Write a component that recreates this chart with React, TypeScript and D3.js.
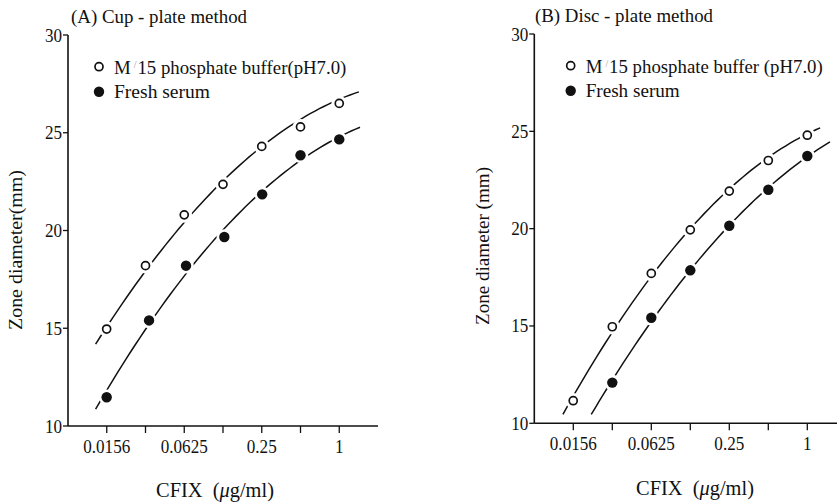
import React from "react";
import * as d3 from "d3";

// ---- data ----
const xTickValues = [1 / 64, 1 / 32, 1 / 16, 1 / 8, 1 / 4, 1 / 2, 1];
const xTickLabels = ["0.0156", "", "0.0625", "", "0.25", "", "1"];
const yTicks = [10, 15, 20, 25, 30];

// (A) Cup-plate method
const cupBufferConc = [0.0156, 0.03125, 0.0625, 0.125, 0.25, 0.5, 1];
const cupBufferZone = [14.96, 18.2, 20.8, 22.36, 24.3, 25.3, 26.5];
const cupSerumConc = [0.0156, 0.0333, 0.0645, 0.128, 0.252, 0.5, 1.0];
const cupSerumZone = [11.47, 15.4, 18.2, 19.67, 21.85, 23.85, 24.66];
// fitted-curve end points: [conc, zone]
const cupBufferCurveEnds = [[0.0128, 14.14], [1.42, 27.19]];
const cupSerumCurveEnds = [[0.0128, 10.9], [1.45, 25.3]];

// (B) Disc-plate method
const discBufferConc = [0.0156, 0.03125, 0.0625, 0.125, 0.25, 0.5, 1];
const discBufferZone = [11.16, 14.96, 17.7, 19.94, 21.93, 23.5, 24.8];
const discSerumConc = [0.03125, 0.0625, 0.125, 0.25, 0.5, 1];
const discSerumZone = [12.09, 15.42, 17.86, 20.15, 22.0, 23.73];
const discBufferCurveEnds = [[0.013, 10.46], [1.257, 25.23]];
const discSerumCurveEnds = [[0.0215, 10.46], [1.495, 24.46]];

const FONT = "'Liberation Serif', 'Times New Roman', serif";

function quadFit(xs: number[], ys: number[], ws: number[]) {
  // weighted least squares y = a + b u + c u^2 with u = log2(x)
  const us = xs.map((x) => Math.log2(x));
  const S = [0, 0, 0, 0, 0];
  const T = [0, 0, 0];
  us.forEach((u, i) => {
    const y = ys[i];
    const w = ws[i];
    for (let k = 0; k < 5; k++) S[k] += w * Math.pow(u, k);
    for (let k = 0; k < 3; k++) T[k] += w * y * Math.pow(u, k);
  });
  const M = [
    [S[0], S[1], S[2], T[0]],
    [S[1], S[2], S[3], T[1]],
    [S[2], S[3], S[4], T[2]],
  ];
  for (let i = 0; i < 3; i++) {
    let p = i;
    for (let r = i + 1; r < 3; r++) if (Math.abs(M[r][i]) > Math.abs(M[p][i])) p = r;
    [M[i], M[p]] = [M[p], M[i]];
    for (let r = 0; r < 3; r++) {
      if (r === i) continue;
      const f = M[r][i] / M[i][i];
      for (let c = i; c < 4; c++) M[r][c] -= f * M[i][c];
    }
  }
  const a = M[0][3] / M[0][0];
  const b = M[1][3] / M[1][1];
  const c = M[2][3] / M[2][2];
  return (x: number) => {
    const u = Math.log2(x);
    return a + b * u + c * u * u;
  };
}

type Series = { conc: number[]; zone: number[]; ends: number[][]; filled: boolean };

type PanelProps = {
  x0: number;
  x1: number;
  yTop: number;
  yBottom: number;
  axisEnd: number;
  title: string;
  titleX: number;
  titleY: number;
  titleLen: number;
  yLabel: string;
  yLabelX: number;
  yLabelY: number;
  yLabelLen: number;
  xLabelX: number;
  xLabelY: number;
  legendX: number;
  legendY1: number;
  legendY2: number;
  legend1: string;
  legendText2Len: number;
  series: Series[];
};

const TICK_FS = 19;

function CText(props: any) {
  const { x, y, children, anchor, sx = 0.9, ...rest } = props;
  return (
    <text
      transform={`translate(${x},${y}) scale(${sx},1)`}
      textAnchor={anchor || "start"}
      fontFamily={FONT}
      fill="#111"
      {...rest}
    >
      {children}
    </text>
  );
}

function Panel(p: PanelProps) {
  const x = d3.scaleLog().base(2).domain([1 / 128, 2]).range([p.x0, p.x1]);
  const y = d3.scaleLinear().domain([10, 30]).range([p.yBottom, p.yTop]);

  return (
    <g>
      {/* axes */}
      <line x1={p.x0} x2={p.x0} y1={p.yTop} y2={p.yBottom} stroke="#111" strokeWidth={1.6} />
      <line x1={p.x0} x2={p.axisEnd} y1={p.yBottom} y2={p.yBottom} stroke="#111" strokeWidth={1.6} />
      {yTicks.map((t) => (
        <g key={"y" + t}>
          <line x1={p.x0 - 5} x2={p.x0} y1={y(t)} y2={y(t)} stroke="#111" strokeWidth={1.3} />
          <CText x={p.x0 - 6} y={y(t) + 6.5} anchor="end" fontSize={TICK_FS}>
            {t}
          </CText>
        </g>
      ))}
      {xTickValues.map((t, i) => (
        <g key={"x" + i}>
          <line x1={x(t)} x2={x(t)} y1={p.yBottom} y2={p.yBottom + 7} stroke="#111" strokeWidth={1.3} />
          {xTickLabels[i] && (
            <CText x={x(t)} y={p.yBottom + 27} anchor="middle" fontSize={TICK_FS}>
              {xTickLabels[i]}
            </CText>
          )}
        </g>
      ))}
      {/* fitted curves */}
      {p.series.map((s, si) => {
        const xs = [...s.conc, s.ends[0][0], s.ends[1][0]];
        const ys = [...s.zone, s.ends[0][1], s.ends[1][1]];
        const ws = [...s.conc.map(() => 1), 4, 4];
        const f = quadFit(xs, ys, ws);
        const lo = Math.log2(s.ends[0][0]);
        const hi = Math.log2(s.ends[1][0]);
        const pts = d3.range(0, 61).map((k) => Math.pow(2, lo + (k / 60) * (hi - lo)));
        const gen = d3
          .line<number>()
          .x((d) => x(d))
          .y((d) => y(f(d)));
        return <path key={"c" + si} d={gen(pts) || ""} fill="none" stroke="#111" strokeWidth={1.5} />;
      })}
      {/* markers */}
      {p.series.map((s, si) =>
        s.conc.map((c, i) => (
          <g key={"m" + si + "-" + i}>
            <circle cx={x(c)} cy={y(s.zone[i])} r={7.8} fill="#fff" />
            {s.filled ? (
              <circle cx={x(c)} cy={y(s.zone[i])} r={5.2} fill="#111" />
            ) : (
              <circle cx={x(c)} cy={y(s.zone[i])} r={4} fill="#fff" stroke="#111" strokeWidth={1.7} />
            )}
          </g>
        ))
      )}
      {/* title */}
      <text
        x={p.titleX}
        y={p.titleY}
        fontFamily={FONT}
        fontSize={19}
        fill="#111"
        textLength={p.titleLen}
        lengthAdjust="spacingAndGlyphs"
      >
        {p.title}
      </text>
      {/* legend */}
      <circle cx={p.legendX} cy={p.legendY1} r={4} fill="#fff" stroke="#111" strokeWidth={1.7} />
      <CText x={p.legendX + 15} y={p.legendY1 + 7} fontSize={19} sx={0.99}>
        M
        <tspan fill="#9a9a9a" fontSize={10} dx={3} dy={-6}>
          /
        </tspan>
        <tspan dy={6} dx={1}>
          {p.legend1}
        </tspan>
      </CText>
      <circle cx={p.legendX} cy={p.legendY2} r={5.2} fill="#111" />
      <text
        x={p.legendX + 15}
        y={p.legendY2 + 6}
        fontFamily={FONT}
        fontSize={19}
        fill="#111"
        textLength={p.legendText2Len}
        lengthAdjust="spacingAndGlyphs"
      >
        Fresh serum
      </text>
      {/* axis labels */}
      <text
        transform={`translate(${p.yLabelX},${p.yLabelY}) rotate(-90)`}
        textAnchor="middle"
        fontFamily={FONT}
        fontSize={19}
        fill="#111"
        textLength={p.yLabelLen}
        lengthAdjust="spacingAndGlyphs"
      >
        {p.yLabel}
      </text>
      <CText x={p.xLabelX} y={p.xLabelY} anchor="middle" fontSize={20} sx={1.02}>
        CFIX
        <tspan dx={10}>(</tspan>
        <tspan fontStyle="italic">μ</tspan>
        <tspan>g/ml)</tspan>
      </CText>
    </g>
  );
}

export default function App() {
  return (
    <svg
      width={837}
      height={503}
      style={{ position: "absolute", left: 0, top: 0, background: "#fff" }}
    >
      <rect width={837} height={503} fill="#fff" />
      <Panel
        x0={68}
        x1={378}
        yTop={35}
        yBottom={426}
        axisEnd={378}
        title="(A) Cup - plate method"
        titleX={71}
        titleY={23}
        titleLen={176}
        yLabel="Zone diameter(mm)"
        yLabelX={22}
        yLabelY={250}
        yLabelLen={160}
        xLabelX={215}
        xLabelY={497}
        legendX={99}
        legendY1={66.7}
        legendY2={91.7}
        legend1="15 phosphate buffer(pH7.0)"
        legendText2Len={96}
        series={[
          { conc: cupBufferConc, zone: cupBufferZone, ends: cupBufferCurveEnds, filled: false },
          { conc: cupSerumConc, zone: cupSerumZone, ends: cupSerumCurveEnds, filled: true },
        ]}
      />
      <Panel
        x0={534.3}
        x1={846.3}
        yTop={34}
        yBottom={423.3}
        axisEnd={846}
        title="(B) Disc - plate method"
        titleX={535}
        titleY={22}
        titleLen={178}
        yLabel="Zone diameter (mm)"
        yLabelX={489}
        yLabelY={246}
        yLabelLen={158}
        xLabelX={695}
        xLabelY={495}
        legendX={570.7}
        legendY1={65.7}
        legendY2={90.7}
        legend1="15 phosphate buffer (pH7.0)"
        legendText2Len={94}
        series={[
          { conc: discBufferConc, zone: discBufferZone, ends: discBufferCurveEnds, filled: false },
          { conc: discSerumConc, zone: discSerumZone, ends: discSerumCurveEnds, filled: true },
        ]}
      />
    </svg>
  );
}
